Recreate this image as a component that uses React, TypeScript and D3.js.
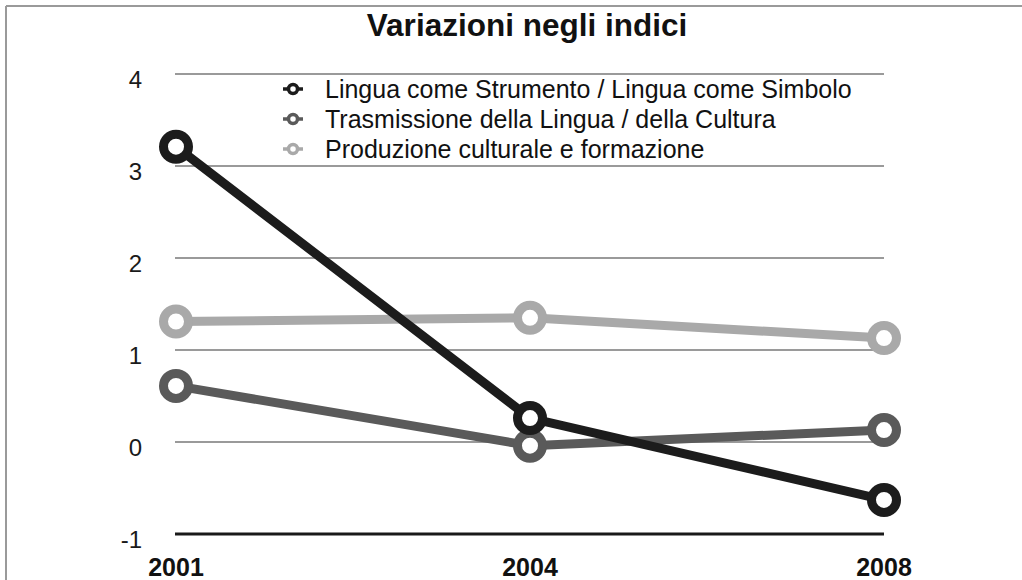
import React from "react";
import * as d3 from "d3";

// Survey years on the x axis
const years = ["2001", "2004", "2008"];

// Index values per series
const strumentoSimbolo = [3.21, 0.26, -0.63];
const trasmissione = [0.61, -0.04, 0.13];
const produzione = [1.31, 1.35, 1.13];

const seriesNames = [
  "Lingua come Strumento / Lingua come Simbolo",
  "Trasmissione della Lingua / della Cultura",
  "Produzione culturale e formazione",
];
const seriesColors = ["#1c1c1c", "#5a5a5a", "#a9a9a9"];

const yTicks = [4, 3, 2, 1, 0, -1];

const W = 1022;
const H = 580;
const FONT = "'Liberation Sans', Arial, Helvetica, sans-serif";

export default function App() {
  const x = d3.scalePoint<string>().domain(years).range([176, 884]);
  const y = d3.scaleLinear().domain([-1, 4]).range([534, 74]);

  const series = [
    { name: seriesNames[0], values: strumentoSimbolo, color: seriesColors[0] },
    { name: seriesNames[1], values: trasmissione, color: seriesColors[1] },
    { name: seriesNames[2], values: produzione, color: seriesColors[2] },
  ];

  const line = d3
    .line<number>()
    .x((_, i) => x(years[i]) as number)
    .y((v) => y(v));

  // draw the lighter series first so the black one stays on top
  const drawOrder = [...series].reverse();

  const legendRows = [89, 119, 149];

  return (
    <svg
      width={W}
      height={H}
      style={{ position: "absolute", left: 0, top: 0, background: "#fff" }}
      fontFamily={FONT}
    >
      <rect x={0} y={0} width={W} height={H} fill="#fff" />
      {/* frame */}
      <line x1={6} y1={6} x2={W} y2={6} stroke="#9a9a9a" strokeWidth={2} />
      <line x1={6} y1={6} x2={6} y2={H} stroke="#9a9a9a" strokeWidth={2} />

      {/* title */}
      <text
        x={527}
        y={36}
        textAnchor="middle"
        fontSize={31.5}
        fontWeight="bold"
        fill="#111"
      >
        Variazioni negli indici
      </text>

      {/* grid lines and y labels */}
      {yTicks.map((t) => (
        <g key={t}>
          <line
            x1={175}
            x2={884}
            y1={y(t)}
            y2={y(t)}
            stroke={t === -1 ? "#1a1a1a" : "#9a9a9a"}
            strokeWidth={t === -1 ? 3 : 2}
          />
          <text
            x={142}
            y={y(t) + 13.5}
            textAnchor="end"
            fontSize={24}
            fill="#1a1a1a"
          >
            {t}
          </text>
        </g>
      ))}

      {/* x labels */}
      {years.map((yr) => (
        <text
          key={yr}
          x={x(yr)}
          y={576}
          textAnchor="middle"
          fontSize={25}
          fontWeight="bold"
          fill="#111"
        >
          {yr}
        </text>
      ))}

      {/* series */}
      {drawOrder.map((s) => (
        <g key={s.name}>
          <path
            d={line(s.values) as string}
            fill="none"
            stroke={s.color}
            strokeWidth={9}
            strokeLinejoin="round"
          />
          {s.values.map((v, i) => (
            <circle
              key={i}
              cx={x(years[i])}
              cy={y(v)}
              r={12.5}
              fill="#fff"
              stroke={s.color}
              strokeWidth={9}
            />
          ))}
        </g>
      ))}

      {/* legend */}
      {series.map((s, i) => (
        <g key={s.name} transform={`translate(293, ${legendRows[i]})`}>
          <line x1={-10} x2={10} y1={0} y2={0} stroke={s.color} strokeWidth={3.5} />
          <circle r={4.5} fill="#fff" stroke={s.color} strokeWidth={3.5} />
          <text x={32} y={0} dy="0.35em" fontSize={25} fill="#111">
            {s.name}
          </text>
        </g>
      ))}
    </svg>
  );
}
